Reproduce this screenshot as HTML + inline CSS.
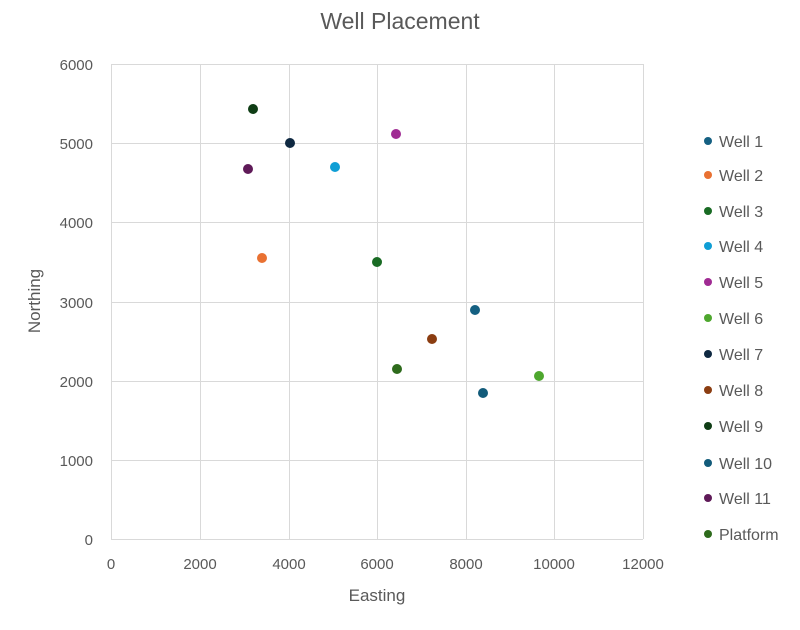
<!DOCTYPE html>
<html><head><meta charset="utf-8"><style>body{margin:0;background:#fff}svg{display:block}text{font-family:"Liberation Sans",sans-serif;fill:#595959}</style></head>
<body>
<svg width="800" height="630" viewBox="0 0 800 630" xmlns="http://www.w3.org/2000/svg">
<text x="400" y="29" font-size="23" text-anchor="middle">Well Placement</text>
<g stroke="#d9d9d9" stroke-width="1">
<line x1="111" y1="64.5" x2="643" y2="64.5"/><line x1="111" y1="143.5" x2="643" y2="143.5"/><line x1="111" y1="222.5" x2="643" y2="222.5"/><line x1="111" y1="302.5" x2="643" y2="302.5"/><line x1="111" y1="381.5" x2="643" y2="381.5"/><line x1="111" y1="460.5" x2="643" y2="460.5"/><line x1="111" y1="539.5" x2="643" y2="539.5"/>
<line x1="111.5" y1="64" x2="111.5" y2="539"/><line x1="200.5" y1="64" x2="200.5" y2="539"/><line x1="289.5" y1="64" x2="289.5" y2="539"/><line x1="377.5" y1="64" x2="377.5" y2="539"/><line x1="466.5" y1="64" x2="466.5" y2="539"/><line x1="554.5" y1="64" x2="554.5" y2="539"/><line x1="643.5" y1="64" x2="643.5" y2="539"/>
</g>
<g font-size="15" text-anchor="end">
<text x="93" y="70">6000</text><text x="93" y="149">5000</text><text x="93" y="228">4000</text><text x="93" y="308">3000</text><text x="93" y="387">2000</text><text x="93" y="466">1000</text><text x="93" y="545">0</text>
</g>
<g font-size="15" text-anchor="middle">
<text x="111" y="569">0</text><text x="200" y="569">2000</text><text x="289" y="569">4000</text><text x="377" y="569">6000</text><text x="466" y="569">8000</text><text x="554" y="569">10000</text><text x="643" y="569">12000</text>
</g>
<text x="377" y="601" font-size="17" text-anchor="middle">Easting</text>
<text transform="translate(40,301) rotate(-90)" font-size="17" text-anchor="middle">Northing</text>
<g>
<circle cx="475" cy="310" r="5" fill="#156082"/>
<circle cx="262" cy="258" r="5" fill="#e97132"/>
<circle cx="377" cy="262" r="5" fill="#196b24"/>
<circle cx="335" cy="167" r="5" fill="#0f9ed5"/>
<circle cx="396" cy="134" r="5" fill="#a02b93"/>
<circle cx="539" cy="376" r="5" fill="#4ea72e"/>
<circle cx="290" cy="143" r="5" fill="#0e2841"/>
<circle cx="432" cy="339" r="5" fill="#8b3d11"/>
<circle cx="253" cy="109" r="5" fill="#0f3d15"/>
<circle cx="483" cy="393" r="5" fill="#125b7a"/>
<circle cx="248" cy="169" r="5" fill="#5f1a58"/>
<circle cx="397" cy="369" r="5" fill="#2e6b1c"/>
</g>
<g font-size="16">
<circle cx="708" cy="141" r="4" fill="#156082"/><text x="719" y="147">Well 1</text>
<circle cx="708" cy="175" r="4" fill="#e97132"/><text x="719" y="181">Well 2</text>
<circle cx="708" cy="211" r="4" fill="#196b24"/><text x="719" y="217">Well 3</text>
<circle cx="708" cy="246" r="4" fill="#0f9ed5"/><text x="719" y="252">Well 4</text>
<circle cx="708" cy="282" r="4" fill="#a02b93"/><text x="719" y="288">Well 5</text>
<circle cx="708" cy="318" r="4" fill="#4ea72e"/><text x="719" y="324">Well 6</text>
<circle cx="708" cy="354" r="4" fill="#0e2841"/><text x="719" y="360">Well 7</text>
<circle cx="708" cy="390" r="4" fill="#8b3d11"/><text x="719" y="396">Well 8</text>
<circle cx="708" cy="426" r="4" fill="#0f3d15"/><text x="719" y="432">Well 9</text>
<circle cx="708" cy="463" r="4" fill="#125b7a"/><text x="719" y="469">Well 10</text>
<circle cx="708" cy="498" r="4" fill="#5f1a58"/><text x="719" y="504">Well 11</text>
<circle cx="708" cy="534" r="4" fill="#2e6b1c"/><text x="719" y="540">Platform</text>
</g>
</svg>
</body></html>
